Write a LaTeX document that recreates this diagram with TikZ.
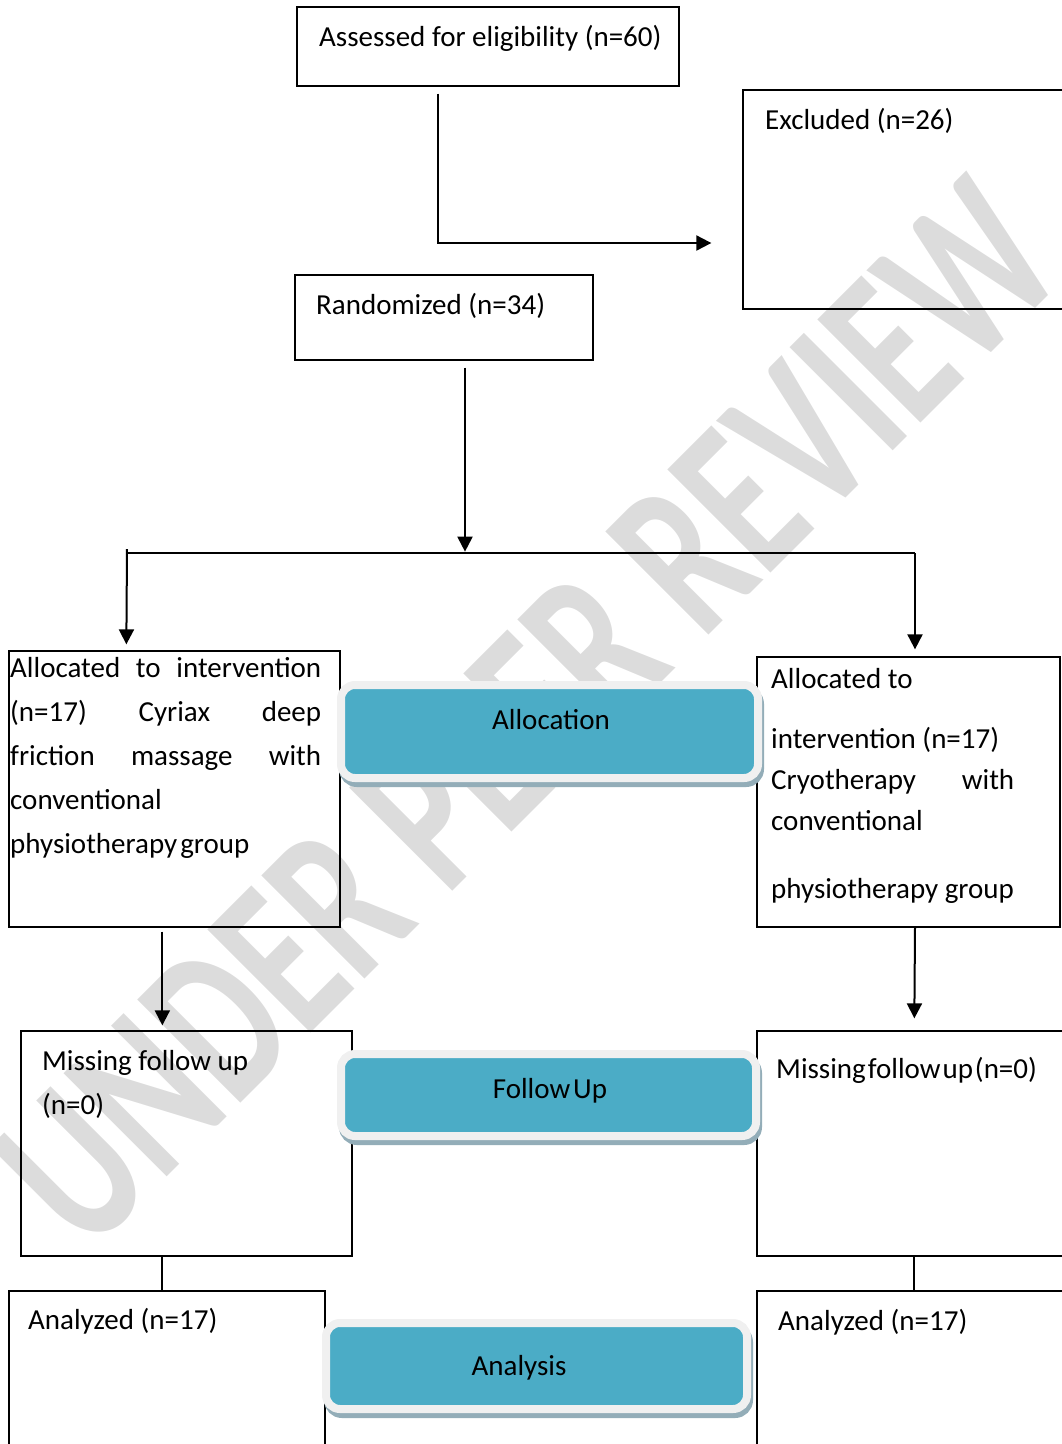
\documentclass[tikz,border=0pt]{standalone}
\usepackage{fontspec}
\setmainfont{Carlito}
\usetikzlibrary{arrows.meta,calc,shadows}

\definecolor{phaseblue}{HTML}{4BACC6}
\definecolor{phaseedge}{HTML}{F0F0F0}
\definecolor{phaseshade}{HTML}{93ADB8}
\definecolor{wmgray}{HTML}{DCDCDC}

\tikzset{
  box/.style={draw, line width=1.3pt, inner sep=0pt},
  phase/.style={fill=phaseblue, draw=phaseedge, line width=8pt, rounded corners=14pt, inner sep=0pt,
    drop shadow={shadow xshift=2pt, shadow yshift=-5pt, fill=phaseshade, draw=phaseshade, opacity=1}},
  txt/.style={anchor=base west, inner sep=0pt, font=\fontsize{29}{44}\selectfont},
  phasetxt/.style={anchor=base, inner sep=0pt, font=\fontsize{29}{44}\selectfont},
  line/.style={line width=2pt},
  arr/.style={line width=2pt, -{Triangle[length=15pt,width=15pt]}},
}

\newcommand{\flowpar}[3]{\parbox[t]{#1pt}{\fontsize{29}{#2}\selectfont #3}}

\begin{document}
\begin{tikzpicture}[x=1pt,y=-1pt]
\useasboundingbox (0,0) rectangle (1062,1444);
\clip (0,0) rectangle (1062,1444);

% watermark
\node[rotate=45, text=wmgray, inner sep=0pt, font=\fontsize{225}{225}\selectfont\bfseries] (wmark) at (528,714) {\scalebox{0.7}[1]{UNDER PEER REVIEW}};

% boxes
\node[box, minimum width=382, minimum height=79] (assess) at (488,46.5) {};
\node[box, minimum width=337, minimum height=219] (excl) at (911.5,199.5) {};
\node[box, minimum width=298, minimum height=85] (rand) at (444,317.5) {};
\node[box, minimum width=331, minimum height=276] (allocL) at (174.5,789) {};
\node[box, minimum width=303, minimum height=270] (allocR) at (908.5,792) {};
\node[box, minimum width=331, minimum height=225] (missL) at (186.5,1143.5) {};
\node[box, minimum width=323, minimum height=225] (missR) at (918.5,1143.5) {};
\node[box, minimum width=316, minimum height=179] (anaL) at (167,1380.5) {};
\node[box, minimum width=323, minimum height=179] (anaR) at (918.5,1380.5) {};

% box texts
\node[txt] (assesst) at (319,46) {Assessed for eligibility (n=60)};
\node[txt] (exclt) at (765,129) {Excluded (n=26)};
\node[txt] (randt) at (316,314) {Randomized (n=34)};
\node[txt] (allocLt) at (10,677) {\flowpar{311}{44}{Allocated\hfill to\hfill intervention\\
  (n=17)\hfill Cyriax\hfill deep\\
  friction\hfill massage\hfill with\\
  conventional\\
  physiotherapy\hspace{3pt}group}};
\node[txt] (allocRt) at (771,688) {\flowpar{243}{41}{Allocated to\\[19pt]
  intervention (n=17)\\
  Cryotherapy\hfill with\\
  conventional\\[27pt]
  physiotherapy group}};
\node[txt] (missLt) at (42,1070) {\flowpar{250}{44}{Missing follow up\\ (n=0)}};
\node[txt] (missRt) at (776,1078) {Missing\hspace{2pt}follow\hspace{2pt}up\hspace{2pt}(n=0)};
\node[txt] (anaLt) at (28,1329) {Analyzed (n=17)};
\node[txt] (anaRt) at (778,1330) {Analyzed (n=17)};

% phase bars
\node[phase, minimum width=417, minimum height=93] (allocph) at (549.5,731.5) {};
\node[phase, minimum width=415, minimum height=82] (followph) at (548.5,1095) {};
\node[phase, minimum width=421, minimum height=86] (anaph) at (536.5,1366) {};
\node[phasetxt] (allocpht) at (551,729) {Allocation};
\node[phasetxt] (followpht) at (550,1098) {Follow\hspace{3pt}Up};
\node[phasetxt] (anapht) at (519,1375) {Analysis};

% connectors
\coordinate (exclin) at ($(excl.west)+(-31,43.5)$);
\coordinate (splitin) at ($(rand.south)+(21,191)$);
\coordinate (lsplit) at (127,549);
\coordinate (rsplit) at (915,553);

\draw[arr] ($(assess.south west)+(142,7)$) |- (exclin);
\draw[arr] ($(rand.south)+(21,7)$) -- (splitin);
\draw[line] (lsplit |- rsplit) -- (rsplit);
\draw[arr] (lsplit) -- ($(allocL.north west)+(118,-6)$);
\draw[arr] (rsplit) -- ($(allocR.north)+(6.5,-7)$);
\draw[arr] ($(allocL.south west)+(154,4)$) -- ($(missL.north west)+(142,-5)$);
\draw[arr] ($(allocR.south)+(6.5,0)$) -- ($(missR.north west)+(158,-12)$);
\draw[line] ($(missL.south west)+(142,0)$) -- ($(anaL.north west)+(154,0)$);
\draw[line] ($(missR.south west)+(158,0)$) -- ($(anaR.north west)+(158,0)$);

\end{tikzpicture}
\end{document}
